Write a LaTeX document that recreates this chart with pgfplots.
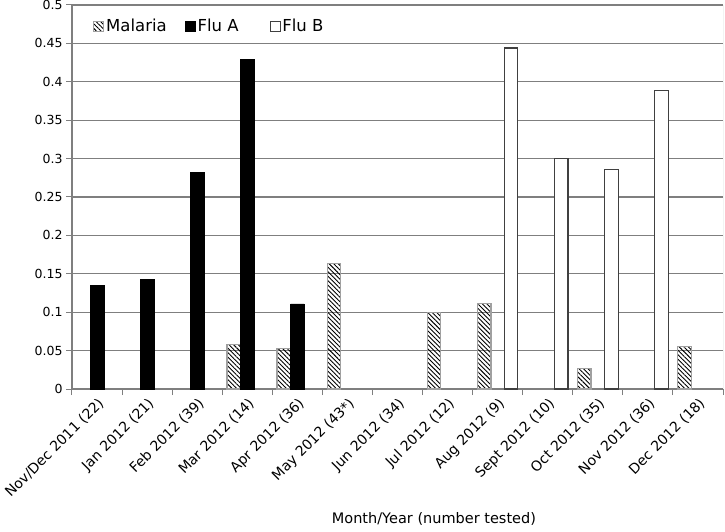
\documentclass[border=0pt]{standalone}
\usepackage{fontspec}
\setmainfont{DejaVu Sans}
\usepackage{pgfplots}
\pgfplotsset{compat=1.18}
\usetikzlibrary{patterns,patterns.meta,calc}
\definecolor{gridgray}{HTML}{7F7F7F}
\definecolor{malgray}{HTML}{A0A0A0}
\definecolor{flubline}{HTML}{404040}
\pgfplotsset{sqlegend/.style={legend image code/.code={\draw[##1, line width=0.8pt] (0pt,-5pt) rectangle (10pt,5pt);}}}
\begin{document}
\begin{tikzpicture}
\begin{axis}[name=ax,
  scale only axis, width=651pt, height=384pt,
  xmin=-0.5, xmax=12.5, ymin=0, ymax=0.5,
  ybar=0pt, bar width=13.5pt,
  xtick={0,1,2,3,4,5,6,7,8,9,10,11,12},
  xticklabels={Nov/Dec 2011 (22),Jan 2012 (21),Feb 2012 (39),Mar 2012 (14),Apr 2012 (36),May 2012 (43*),Jun 2012 (34),Jul 2012 (12),Aug 2012 (9),Sept 2012 (10),Oct 2012 (35),Nov 2012 (36),Dec 2012 (18)},
  major x tick style={draw=none},
  minor xtick={-0.5,0.5,1.5,2.5,3.5,4.5,5.5,6.5,7.5,8.5,9.5,10.5,11.5,12.5},
  ytick={0,0.05,0.1,0.15,0.2,0.25,0.3,0.35,0.4,0.45,0.5},
  scaled y ticks=false,
  tick align=outside, major tick length=6pt, minor tick length=6pt,
  ymajorgrids, grid style={gridgray, line width=1.2pt},
  axis x line*=bottom, axis y line*=left,
  axis line style={gridgray, line width=1.2pt},
  tick style={gridgray, line width=1pt},
  yticklabel style={font=\fontsize{12.5}{14}\selectfont, /pgf/number format/fixed, /pgf/number format/precision=2, /pgf/number format/assume math mode=true},
  xticklabel style={rotate=45, anchor=north east, font=\fontsize{14}{16}\selectfont, inner sep=1pt},
  xlabel={Month/Year (number tested)},
  xlabel style={at={(axis description cs:0.556,0)}, anchor=center, yshift=-130pt, font=\fontsize{14.5}{16}\selectfont},
  legend columns=3,
  legend style={at={(axis description cs:0.028,0.945)}, anchor=west, draw=none, fill=white, font=\fontsize{16.5}{18}\selectfont,
    /tikz/every even column/.append style={column sep=16pt}},
]
\addplot[pattern={Lines[angle=-45, distance=3.2pt, line width=0.9pt]}, pattern color=black, draw=malgray, line width=1.2pt, sqlegend]
  coordinates {(3,0.058) (4,0.053) (5,0.163) (7,0.1) (8,0.111) (10,0.027) (12,0.055)};
\addlegendentry{Malaria}
\addplot[fill=black, draw=black, sqlegend]
  coordinates {(0,0.135) (1,0.143) (2,0.282) (3,0.429) (4,0.111)};
\addlegendentry{Flu A\rule{13pt}{0pt}}
\addplot[fill=white, draw=flubline, line width=1.1pt, sqlegend]
  coordinates {(8,0.444) (9,0.3) (10,0.286) (11,0.389)};
\addlegendentry{Flu B}
\draw[malgray, line width=1pt] (rel axis cs:1,0) -- (rel axis cs:1,1);
\end{axis}
\pgfresetboundingbox
\path[use as bounding box] ($(ax.south west)+(-72pt,-143pt)$) rectangle ($(ax.north east)+(2pt,5pt)$);
\end{tikzpicture}
\end{document}
